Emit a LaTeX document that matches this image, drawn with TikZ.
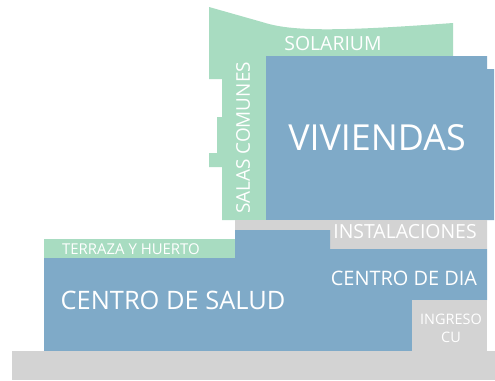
\documentclass[tikz,border=0pt]{standalone}
\usepackage{fontspec}
\setmainfont{Open Sans}
\definecolor{grn}{HTML}{A8DCC1}
\definecolor{blu}{HTML}{7FAAC8}
\definecolor{gry}{HTML}{D3D3D3}
\tikzset{
  lbl/.style={text=white, inner sep=0pt, align=center},
}
\newcommand{\fs}[1]{\fontsize{#1}{#1}\selectfont}
\begin{document}
\begin{tikzpicture}[x=1bp,y=-1bp]
\useasboundingbox (0,0) rectangle (495,380);
\fill[white] (0,0) rectangle (495,380);
% green tower (solarium + salas comunes)
\fill[grn] (209,7) -- (262,22) .. controls (290,31) and (330,32) .. (453,23)
  -- (453,56) -- (266,56) -- (266,220) -- (222,220) -- (222,167) -- (209,167)
  -- (209,153) -- (217,153) -- (217,117) -- (222,117) -- (222,79) -- (209,79) -- cycle;
% viviendas
\fill[blu] (266,56) -- (487,56) -- (487,69) -- (494,69) -- (494,220) -- (266,220) -- cycle;
% instalaciones
\fill[gry] (235,220) -- (487,220) -- (487,249) -- (330,249) -- (330,230) -- (235,230) -- cycle;
% terraza
\fill[grn] (44,239) rectangle (235,258);
% centro de salud / dia
\fill[blu] (44,258) -- (235,258) -- (235,230) -- (330,230) -- (330,249) -- (487,249)
  -- (487,300) -- (412,300) -- (412,351) -- (44,351) -- cycle;
% ingreso
\fill[gry] (412,300) rectangle (487,351);
% base
\fill[gry] (12,351) rectangle (495,380);
% labels
\node[lbl] (sol) at (333,44) {\fs{19.5}SOLARIUM};
\node[lbl, rotate=90] (sal) at (243,138) {\fs{19}SALAS COMUNES};
\node[lbl] (viv) at (377,138) {\fs{36}VIVIENDAS};
\node[lbl] (ins) at (405,232) {\fs{19.5}INSTALACIONES};
\node[lbl] (ter) at (131,249) {\fs{15}TERRAZA Y HUERTO};
\node[lbl] (sal2) at (173,300) {\fs{25.5}CENTRO DE SALUD};
\node[lbl] (dia) at (404,278) {\fs{20}CENTRO DE DIA};
\node[lbl, font=\fontsize{14.5}{18}\selectfont] (ing) at (451,328) {INGRESO\\CU};
\end{tikzpicture}
\end{document}
